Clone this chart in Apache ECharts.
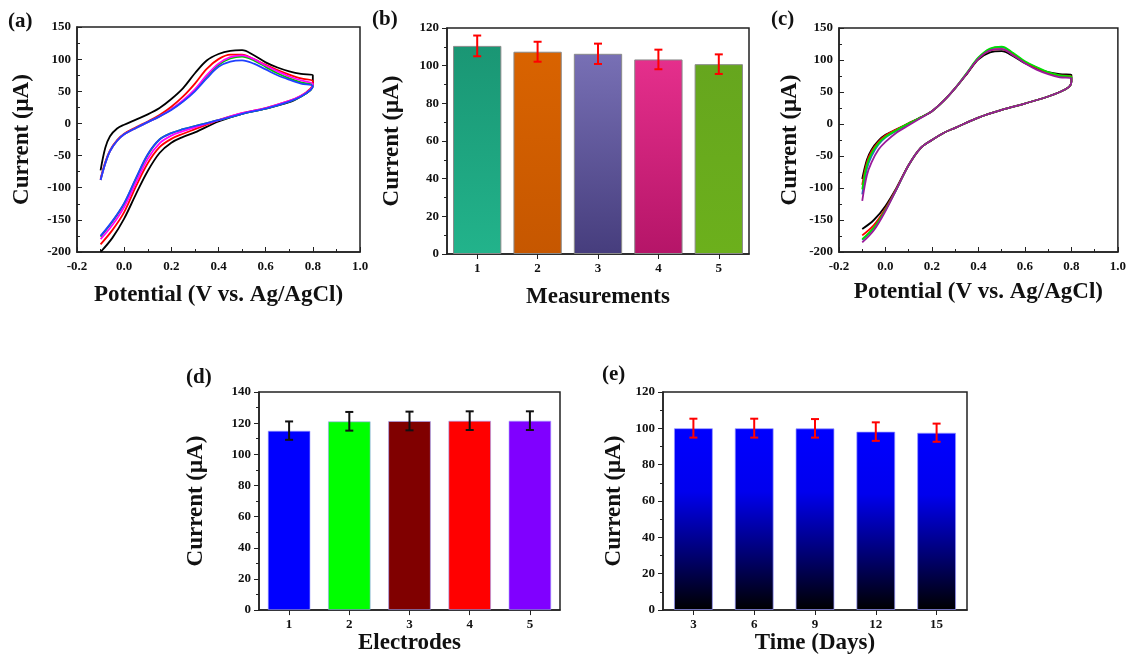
<!DOCTYPE html>
<html>
<head>
<meta charset="utf-8">
<script src="https://cdn.jsdelivr.net/npm/echarts@6/dist/echarts.min.js"></script>
<style>
  html, body { margin: 0; padding: 0; background: #fff; }
  #chart { width: 1129px; height: 656px; }
</style>
</head>
<body>
<div id="chart"></div>
<script>
// potential points: forward sweep then reverse sweep
var cvPotential = [-0.1, -0.08, -0.06, -0.03, 0.0, 0.05, 0.1, 0.15, 0.2, 0.25, 0.3, 0.35, 0.4, 0.45, 0.5, 0.55, 0.6, 0.65, 0.7, 0.75, 0.8,
  0.8, 0.79, 0.75, 0.7, 0.6, 0.5, 0.4, 0.3, 0.25, 0.2, 0.15, 0.1, 0.05, 0.0, -0.05, -0.1];

// (a) CV curves
var aBlack = [-73, -38, -20, -8, -2, 6, 14, 24, 38, 55, 78, 98, 108, 113, 114, 106, 95, 87, 81, 77, 75,
  60, 52, 42, 33, 23, 15, 3, -14, -21, -30, -46, -74, -110, -148, -178, -200];
var aRed = [-86, -60, -42, -26, -16, -6, 3, 13, 26, 42, 62, 85, 100, 107, 107, 100, 91, 83, 76, 70, 66,
  62, 54, 43, 35, 24, 16, 5, -9, -16, -24, -37, -62, -98, -138, -166, -188];
var aMagenta = [-88, -62, -43, -27, -17, -7, 2, 11, 22, 36, 53, 75, 93, 103, 106, 100, 90, 81, 73, 67, 62,
  60, 53, 43, 35, 24, 16, 5, -6, -12, -19, -31, -55, -92, -130, -158, -180];
var aGreen = [-88, -62, -43, -27, -17, -7, 2, 11, 22, 35, 52, 73, 91, 101, 104, 98, 88, 78, 70, 64, 60,
  58, 52, 42, 34, 23, 15, 5, -4, -9, -15, -25, -49, -86, -125, -153, -176];
var aBlue = [-88, -62, -43, -27, -17, -7, 2, 11, 21, 34, 50, 70, 88, 96, 98, 93, 84, 75, 68, 62, 58,
  58, 52, 42, 34, 23, 15, 5, -4, -9, -15, -25, -48, -85, -124, -152, -175];

// (c) CV curves
var cBlack = [-86, -56, -40, -26, -17, -8, 1, 10, 20, 36, 56, 78, 101, 112, 114, 106, 95, 87, 81, 78, 77,
  66, 58, 50, 43, 32, 22, 10, -6, -14, -25, -38, -64, -98, -128, -150, -164];
var cRed = [-95, -60, -43, -28, -18, -8, 1, 10, 20, 36, 56, 79, 102, 115, 117, 108, 96, 88, 80, 76, 74,
  66, 58, 50, 43, 32, 22, 10, -6, -14, -25, -38, -64, -99, -132, -158, -174];
var cGreen = [-102, -64, -46, -30, -20, -9, 1, 10, 20, 36, 56, 80, 104, 118, 121, 111, 98, 89, 81, 76, 74,
  66, 58, 50, 43, 32, 22, 10, -6, -14, -25, -38, -64, -100, -134, -162, -180];
var cBlue = [-110, -70, -50, -32, -21, -10, 0, 10, 20, 36, 56, 79, 103, 117, 120, 110, 97, 88, 80, 75, 73,
  66, 58, 50, 43, 32, 22, 10, -6, -14, -25, -38, -64, -100, -134, -162, -181];
var cPurple = [-120, -80, -60, -40, -28, -13, -2, 9, 20, 36, 56, 79, 102, 115, 117, 107, 95, 85, 78, 73, 71,
  66, 58, 50, 43, 32, 22, 10, -6, -14, -25, -38, -64, -100, -136, -166, -185];

// (b) repeated measurements
var bCategories = ['1', '2', '3', '4', '5'];
var bValues = [110.5, 107.4, 106.3, 103.3, 100.8];
var bErrors = [5.5, 5.3, 5.4, 5.2, 5.2];

// (d) electrodes
var dCategories = ['1', '2', '3', '4', '5'];
var dValues = [115.2, 121.2, 121.4, 121.6, 121.6];
var dErrors = [5.9, 6.0, 6.0, 6.0, 6.0];

// (e) storage days
var eCategories = ['3', '6', '9', '12', '15'];
var eValues = [100.1, 100.1, 100.0, 98.2, 97.6];
var eErrors = [5.2, 5.2, 5.1, 5.1, 5.0];

var FONT = 'Liberation Serif';

function pairs(ys) {
  return ys.map(function (y, i) { return [cvPotential[i], y]; });
}

function grad(top, bottom) {
  return {type: 'linear', x: 0, y: 0, x2: 0, y2: 1,
    colorStops: [{offset: 0, color: top}, {offset: 1, color: bottom}]};
}

function errorItem(color) {
  return function (params, api) {
    var x = api.value(0);
    var top = api.coord([x, api.value(2)]);
    var bot = api.coord([x, api.value(1)]);
    var st = {stroke: color, lineWidth: 2};
    return {
      type: 'group',
      children: [
        {type: 'line', shape: {x1: top[0], y1: top[1], x2: bot[0], y2: bot[1]}, style: st},
        {type: 'line', shape: {x1: top[0] - 4, y1: top[1], x2: top[0] + 4, y2: top[1]}, style: st},
        {type: 'line', shape: {x1: bot[0] - 4, y1: bot[1], x2: bot[0] + 4, y2: bot[1]}, style: st}
      ]
    };
  };
}

function errData(vals, errs) {
  return vals.map(function (v, i) { return [i, v - errs[i], v + errs[i]]; });
}

var labelStyle = {color: '#111', fontFamily: FONT, fontWeight: 'bold', fontSize: 13};
var nameStyle = {color: '#111', fontFamily: FONT, fontWeight: 'bold', fontSize: 23};
var lineStyleAxis = {color: '#222', width: 1.5};

function cvX(grid, gap) {
  return {
    type: 'value', gridIndex: grid, min: -0.2, max: 1.0, interval: 0.2,
    name: 'Potential (V vs. Ag/AgCl)', nameLocation: 'middle', nameGap: gap, nameTextStyle: nameStyle,
    axisLine: {show: true, onZero: false, lineStyle: lineStyleAxis},
    axisTick: {show: true, inside: true, length: 5, lineStyle: {color: '#222'}},
    minorTick: {show: true, splitNumber: 2, length: 3, lineStyle: {color: '#222'}},
    axisLabel: Object.assign({margin: 8, formatter: function (v) { return v.toFixed(1); }}, labelStyle),
    splitLine: {show: false}
  };
}
function cvY(grid, gap) {
  return {
    type: 'value', gridIndex: grid, min: -200, max: 150, interval: 50,
    name: 'Current (μA)', nameLocation: 'middle', nameGap: gap, nameTextStyle: nameStyle,
    axisLine: {show: true, onZero: false, lineStyle: lineStyleAxis},
    axisTick: {show: true, inside: true, length: 5, lineStyle: {color: '#222'}},
    minorTick: {show: true, splitNumber: 2, length: 3, lineStyle: {color: '#222'}},
    axisLabel: Object.assign({margin: 6}, labelStyle),
    splitLine: {show: false}
  };
}
function barX(grid, cats, name, gap) {
  return {
    type: 'category', gridIndex: grid, data: cats,
    name: name, nameLocation: 'middle', nameGap: gap, nameTextStyle: nameStyle,
    axisLine: {show: true, lineStyle: lineStyleAxis},
    axisTick: {show: true, alignWithLabel: true, length: 5, lineStyle: {color: '#222'}},
    axisLabel: Object.assign({margin: 8}, labelStyle)
  };
}
function barY(grid, max, gap) {
  return {
    type: 'value', gridIndex: grid, min: 0, max: max, interval: 20,
    name: 'Current (μA)', nameLocation: 'middle', nameGap: gap, nameTextStyle: nameStyle,
    axisLine: {show: true, lineStyle: lineStyleAxis},
    axisTick: {show: true, length: 5, lineStyle: {color: '#222'}},
    minorTick: {show: true, splitNumber: 2, length: 3, lineStyle: {color: '#222'}},
    axisLabel: Object.assign({margin: 8}, labelStyle),
    splitLine: {show: false}
  };
}
function cvLine(grid, ys, color) {
  return {
    type: 'line', xAxisIndex: grid, yAxisIndex: grid, data: pairs(ys),
    showSymbol: false, smooth: 0.35, lineStyle: {color: color, width: 1.8}, silent: true
  };
}

var gridBox = {show: true, borderColor: '#222', borderWidth: 1.5, backgroundColor: 'transparent'};

var chart = echarts.init(document.getElementById('chart'));
chart.setOption({
  backgroundColor: '#fff',
  animation: false,
  textStyle: {fontFamily: FONT},
  graphic: [
    {type: 'text', left: 8, top: 11, style: {text: '(a)', font: 'bold 21px "Liberation Serif"', fill: '#111'}},
    {type: 'text', left: 372, top: 9, style: {text: '(b)', font: 'bold 21px "Liberation Serif"', fill: '#111'}},
    {type: 'text', left: 771, top: 9, style: {text: '(c)', font: 'bold 21px "Liberation Serif"', fill: '#111'}},
    {type: 'text', left: 186, top: 367, style: {text: '(d)', font: 'bold 21px "Liberation Serif"', fill: '#111'}},
    {type: 'text', left: 602, top: 364, style: {text: '(e)', font: 'bold 21px "Liberation Serif"', fill: '#111'}}
  ],
  grid: [
    Object.assign({left: 77, top: 27, width: 283, height: 225}, gridBox),
    Object.assign({left: 447, top: 28, width: 302, height: 226}, gridBox),
    Object.assign({left: 839, top: 28, width: 283, height: 224}, gridBox),
    Object.assign({left: 259, top: 392, width: 301, height: 220}, gridBox),
    Object.assign({left: 663, top: 392, width: 304, height: 220}, gridBox)
  ],
  xAxis: [
    cvX(0, 32),
    barX(1, bCategories, 'Measurements', 32),
    cvX(2, 29),
    barX(3, dCategories, 'Electrodes', 21),
    barX(4, eCategories, 'Time (Days)', 22)
  ],
  yAxis: [
    cvY(0, 43),
    barY(1, 120, 43),
    cvY(2, 37),
    barY(3, 140, 51),
    barY(4, 120, 37)
  ],
  series: [
    cvLine(0, aBlack, '#000000'),
    cvLine(0, aRed, '#ff0000'),
    cvLine(0, aGreen, '#00c800'),
    cvLine(0, aMagenta, '#ff00ff'),
    cvLine(0, aBlue, '#2040ff'),

    {
      type: 'bar', xAxisIndex: 1, yAxisIndex: 1, barWidth: '80%',
      itemStyle: {borderColor: '#8a8a8a', borderWidth: 1},
      data: [
        {value: bValues[0], itemStyle: {color: grad('#1a9674', '#22b38b')}},
        {value: bValues[1], itemStyle: {color: grad('#d96300', '#c65700')}},
        {value: bValues[2], itemStyle: {color: grad('#7870b5', '#463d7d')}},
        {value: bValues[3], itemStyle: {color: grad('#e52f8c', '#b51568')}},
        {value: bValues[4], itemStyle: {color: grad('#66a61e', '#6cb01c')}}
      ]
    },
    {type: 'custom', xAxisIndex: 1, yAxisIndex: 1, renderItem: errorItem('#ff0000'), data: errData(bValues, bErrors), z: 5},

    cvLine(2, cBlue, '#1f6fbf'),
    cvLine(2, cBlack, '#000000'),
    cvLine(2, cRed, '#ff0000'),
    cvLine(2, cGreen, '#00e000'),
    cvLine(2, cPurple, '#9a1a9a'),

    {
      type: 'bar', xAxisIndex: 3, yAxisIndex: 3, barWidth: '71%',
      itemStyle: {borderColor: 'rgba(160,160,255,0.6)', borderWidth: 1},
      data: [
        {value: dValues[0], itemStyle: {color: '#0000ff'}},
        {value: dValues[1], itemStyle: {color: '#00ff00'}},
        {value: dValues[2], itemStyle: {color: '#800000'}},
        {value: dValues[3], itemStyle: {color: '#ff0000'}},
        {value: dValues[4], itemStyle: {color: '#8000ff'}}
      ]
    },
    {type: 'custom', xAxisIndex: 3, yAxisIndex: 3, renderItem: errorItem('#111111'), data: errData(dValues, dErrors), z: 5},

    {
      type: 'bar', xAxisIndex: 4, yAxisIndex: 4, barWidth: '64%',
      itemStyle: {
        borderColor: 'rgba(150,150,255,0.7)', borderWidth: 1,
        color: {type: 'linear', x: 0, y: 0, x2: 0, y2: 1, colorStops: [
          {offset: 0, color: '#0000ff'}, {offset: 0.35, color: '#0000ee'},
          {offset: 0.7, color: '#000070'}, {offset: 1, color: '#000000'}]}
      },
      data: eValues
    },
    {type: 'custom', xAxisIndex: 4, yAxisIndex: 4, renderItem: errorItem('#ff0000'), data: errData(eValues, eErrors), z: 5}
  ]
});
</script>
</body>
</html>
